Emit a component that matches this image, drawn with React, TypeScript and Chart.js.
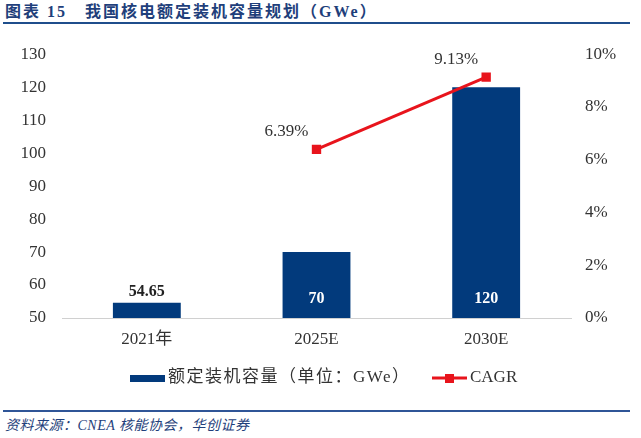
import React, { useEffect, useRef } from "react";
import { Chart, registerables } from "chart.js";

Chart.register(...registerables);

const categories = ["2021年", "2025E", "2030E"];
const capacity = [54.65, 70, 120];
const cagr = [null, 6.39, 9.13];
const leftTicks = [50, 60, 70, 80, 90, 100, 110, 120, 130];
const rightTicks = [0, 2, 4, 6, 8, 10];

const BLUE = "#023a7c";
const RED = "#e8141c";
const SERIF = "'Liberation Serif', 'Noto Sans CJK SC', serif";

const labelPlugin = {
  id: "labels",
  afterDatasetsDraw(chart: any) {
    const ctx = chart.ctx;
    const barMeta = chart.getDatasetMeta(0);
    const bottom = chart.chartArea.bottom;
    ctx.save();
    ctx.textAlign = "center";
    ctx.textBaseline = "middle";
    barMeta.data.forEach((el: any, i: number) => {
      const v = capacity[i];
      ctx.font = `bold 16px ${SERIF}`;
      if (i === 0) {
        ctx.fillStyle = "#222";
        ctx.fillText(v.toFixed(2), el.x, el.y - 11);
      } else {
        ctx.fillStyle = "#ffffff";
        ctx.fillText(String(v), el.x, bottom - 19);
      }
    });
    const lineMeta = chart.getDatasetMeta(1);
    lineMeta.data.forEach((el: any, i: number) => {
      const v = cagr[i];
      if (v == null) return;
      ctx.font = `17px ${SERIF}`;
      ctx.fillStyle = "#333";
      ctx.fillText(v.toFixed(2) + "%", el.x - 30, el.y - 18);
    });
    ctx.restore();
  },
  afterDraw(chart: any) {
    const ctx = chart.ctx;
    ctx.save();
    const ly = 350;
    ctx.fillStyle = BLUE;
    ctx.fillRect(130, ly - 3, 35, 7);
    ctx.font = `17px ${SERIF}`;
    ctx.fillStyle = "#333";
    ctx.textBaseline = "middle";
    ctx.textAlign = "left";
    (ctx as any).letterSpacing = "1.5px";
    ctx.fillText("额定装机容量（单位：GWe）", 168, ly);
    ctx.strokeStyle = RED;
    ctx.lineWidth = 3;
    ctx.beginPath();
    ctx.moveTo(432, ly);
    ctx.lineTo(467, ly);
    ctx.stroke();
    ctx.fillStyle = RED;
    ctx.fillRect(445, ly - 4, 9, 9);
    ctx.fillStyle = "#333";
    (ctx as any).letterSpacing = "0px";
    ctx.fillText("CAGR", 470, ly);
    ctx.restore();
  },
};

export default function App() {
  const ref = useRef<HTMLCanvasElement>(null);
  useEffect(() => {
    const chart = new Chart(ref.current!, {
      type: "bar",
      data: {
        labels: categories,
        datasets: [
          {
            type: "bar",
            label: "额定装机容量（单位：GWe）",
            data: capacity,
            backgroundColor: BLUE,
            categoryPercentage: 1,
            barPercentage: 0.4,
            yAxisID: "y",
            order: 2,
          },
          {
            type: "line",
            label: "CAGR",
            data: cagr as any,
            borderColor: RED,
            backgroundColor: RED,
            borderWidth: 3,
            pointStyle: "rect",
            pointRadius: 4.5,
            pointBackgroundColor: RED,
            pointBorderColor: RED,
            yAxisID: "y1",
            order: 1,
          },
        ],
      },
      options: {
        responsive: false,
        animation: false,
        devicePixelRatio: 1,
        layout: { padding: { top: 24, left: 0, right: 0, bottom: 0 } },
        plugins: { legend: { display: false }, tooltip: { enabled: false } },
        scales: {
          x: {
            grid: { display: false, drawTicks: false },
            border: { display: true, color: "#d0d0d0", width: 1 },
            ticks: { font: { family: SERIF, size: 17 }, color: "#333", padding: 11 },
            afterFit: (s: any) => {
              s.height = 90;
            },
          },
          y: {
            position: "left",
            min: 50,
            max: 130,
            grid: { display: false, drawTicks: false },
            border: { display: false },
            afterBuildTicks: (s: any) => {
              s.ticks = leftTicks.map((v) => ({ value: v }));
            },
            ticks: { font: { family: SERIF, size: 17 }, color: "#333", padding: 16 },
            afterFit: (s: any) => {
              s.width = 62;
            },
          },
          y1: {
            position: "right",
            min: 0,
            max: 10,
            grid: { display: false, drawTicks: false },
            border: { display: false },
            afterBuildTicks: (s: any) => {
              s.ticks = rightTicks.map((v) => ({ value: v }));
            },
            ticks: {
              font: { family: SERIF, size: 17 },
              color: "#333",
              padding: 14,
              callback: (v: any) => v + "%",
            },
            afterFit: (s: any) => {
              s.width = 70;
            },
          },
        },
      },
      plugins: [labelPlugin],
    });
    return () => chart.destroy();
  }, []);

  return (
    <div style={{ position: "absolute", left: 0, top: 0, width: 641, height: 438, background: "#fff", fontFamily: SERIF }}>
      <div
        style={{
          position: "absolute",
          left: 5,
          top: 2,
          fontSize: 16,
          fontWeight: "bold",
          color: "#1f3f7b",
          letterSpacing: 2,
          whiteSpace: "nowrap",
          lineHeight: "20px",
        }}
      >
        图表 15&nbsp;&nbsp;&nbsp;我国核电额定装机容量规划（GWe）
      </div>
      <div style={{ position: "absolute", left: 3, top: 22, width: 627, height: 2, background: "#1f4e8c" }} />
      <canvas ref={ref} width={641} height={380} style={{ position: "absolute", left: 0, top: 28, width: 641, height: 380 }} />
      <div style={{ position: "absolute", left: 3, top: 410, width: 627, height: 2, background: "#2f5597" }} />
      <div
        style={{
          position: "absolute",
          left: 5,
          top: 417,
          fontSize: 14,
          fontStyle: "italic",
          color: "#1f3f7b",
          whiteSpace: "nowrap",
          lineHeight: "18px",
          letterSpacing: 0.5,
        }}
      >
        资料来源：CNEA 核能协会，华创证券
      </div>
    </div>
  );
}
